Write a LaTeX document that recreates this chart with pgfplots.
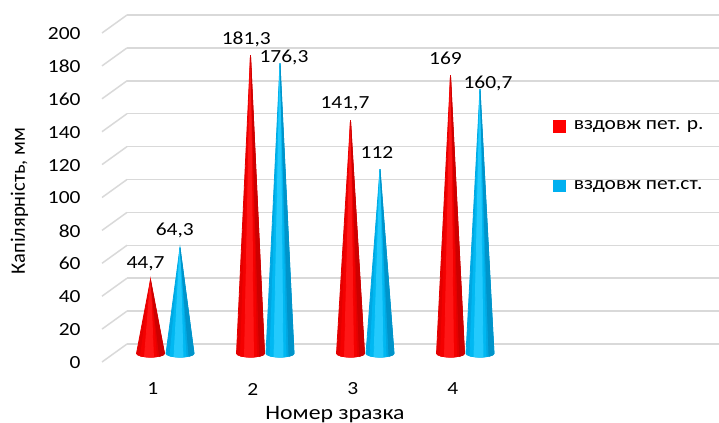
\documentclass[border=0pt]{standalone}
\usepackage{fontspec}
\setmainfont{Carlito}[FakeStretch=1.16]
\newfontfamily\uprightlabel{Carlito}
\usepackage{pgfplots}
\usepackage{pgfplotstable}
\pgfplotsset{compat=1.18}

\definecolor{serRed}{HTML}{FF0000}
\definecolor{serBlue}{HTML}{00B0F0}
\definecolor{gridgray}{HTML}{D9D9D9}
% cone tones: body, lit band, highlight, shaded side
\definecolor{redBody}{RGB}{228,0,0}
\definecolor{redLit}{RGB}{244,0,0}
\definecolor{redHi}{RGB}{255,22,22}
\definecolor{redDark}{RGB}{205,0,0}
\definecolor{blueBody}{RGB}{0,168,226}
\definecolor{blueLit}{RGB}{0,184,242}
\definecolor{blueHi}{RGB}{35,202,253}
\definecolor{blueDark}{RGB}{0,148,202}

% x: sample number; r, b: capillarity of the two series;
% rdx, rdy, bdx, bdy: placement of the value labels (pt)
\pgfplotstableread{
x r     b     rdx   rdy  bdx  bdy
1 44.7  64.3  -2.5  8.6  -2.6 9.1
2 181.3 176.3 -2.1  8.6  2.0  3.4
3 141.7 112   -2.75 8.7  -1.5 8.4
4 169   160.7 -2.5  8.5  4.0  3.45
}\capdata

% cone drawn as a plot mark: apex at the data point, elliptic base on
% y = 0 (one y unit = 0.8225pt); bands of tone give the round look
\newcommand\conebody[4]{%
  \fill[#1] (0pt,0pt) -- (7pt,{-0.8225pt*\coneval})
    arc[start angle=0,end angle=-180,x radius=7pt,y radius=1.8pt] -- cycle;
  \fill[#2] (0pt,0pt) -- (-5pt,{-0.8225pt*\coneval-1.26pt})
    -- (0pt,{-0.8225pt*\coneval-1.8pt}) -- (3pt,{-0.8225pt*\coneval-1.63pt}) -- cycle;
  \fill[#3] (0pt,0pt) -- (-3pt,{-0.8225pt*\coneval-1.63pt})
    -- (0pt,{-0.8225pt*\coneval-1.8pt}) -- (1.5pt,{-0.8225pt*\coneval-1.76pt}) -- cycle;
  \fill[#4] (0pt,0pt) -- (7pt,{-0.8225pt*\coneval})
    -- (6.2pt,{-0.8225pt*\coneval-0.84pt}) -- (4.5pt,{-0.8225pt*\coneval-1.38pt}) -- cycle;}
\pgfdeclareplotmark{cone-red}{\conebody{redBody}{redLit}{redHi}{redDark}}
\pgfdeclareplotmark{cone-blue}{\conebody{blueBody}{blueLit}{blueHi}{blueDark}}
% empty mark: carries the value labels only
\pgfdeclareplotmark{blank}{}

\newcommand\ticksize{\fontsize{9.25}{11}\selectfont}
\newcommand\titlesize{\fontsize{10.25}{12}\selectfont}

\begin{document}
\begin{tikzpicture}
\useasboundingbox (0pt,0pt) rectangle (359.5pt,211.5pt);

% back wall with the horizontal grid and the floor diagonals
\begin{axis}[
  at={(63.5pt,39.5pt)}, anchor=south west,
  x=296pt, y=0.8225pt,
  xmin=0, xmax=1, ymin=0, ymax=200,
  clip=false,
  axis line style={draw=none},
  major tick length=0pt,
  xtick=\empty, ytick={0,20,...,200}, yticklabels={},
  ymajorgrids, grid style={gridgray, line width=0.75pt},
]
\pgfplotsinvokeforeach{0,20,...,200}{
  \draw[gridgray, line width=0.75pt] (axis cs:0,#1) -- ++(-12.5pt,-9pt);
}
\end{axis}

% cones, tick labels, titles and legend
\begin{axis}[
  at={(57.25pt,34.75pt)}, anchor=south west,
  x=50pt, y=0.8225pt,
  xmin=0.4925, xmax=6, ymin=0, ymax=200,
  clip=false,
  axis line style={draw=none},
  major tick length=0pt,
  xtick={1,2,3,4}, ytick={0,20,...,200},
  /pgf/number format/assume math mode=true,
  tick label style={font=\ticksize},
  xticklabel style={anchor=center, inner sep=0pt, xshift=-6.25pt, yshift=-17.75pt},
  yticklabel style={anchor=east, inner sep=0pt, xshift=-16.75pt, yshift=-4.5pt},
  xlabel={Номер зразка},
  ylabel={Капілярність, мм},
  every axis x label/.style={at={(axis cs:2.6975,-40.2)}, anchor=base, font=\titlesize},
  every axis y label/.style={at={(axis cs:-0.4025,92.7)}, anchor=base, rotate=90,
    font=\uprightlabel\titlesize},
  legend style={at={(axis cs:4.8775,141.9)}, anchor=north west,
    draw=none, fill=none, inner sep=0pt, row sep=23.5pt, font=\ticksize,
    nodes={inner sep=0pt},
    /tikz/every odd column/.style={column sep=4pt}},
  legend cell align=left,
  value label/.style={only marks, mark=blank, forget plot, point meta=explicit,
    nodes near coords={\pgfmathprintnumber[fixed,precision=1,use comma]{\pgfplotspointmeta}},
    nodes near coords style={anchor=center, inner sep=0pt, text depth=0pt,
      font=\ticksize, text=black}},
]
\addplot[only marks, mark=cone-red,
  visualization depends on={rawy \as \coneval},
  legend image code/.code={\fill[serRed] (0pt,-2.9pt) rectangle (5.8pt,2.9pt);},
] table[x expr=\thisrow{x}-0.1475, y=r] {\capdata};
\addlegendentry{вздовж пет. р.}
\addplot[only marks, mark=cone-blue,
  visualization depends on={rawy \as \coneval},
  legend image code/.code={\fill[serBlue] (0pt,-2.9pt) rectangle (5.8pt,2.9pt);},
] table[x expr=\thisrow{x}+0.1475, y=b] {\capdata};
\addlegendentry{вздовж пет.ст.}

% value labels above the cone tips
\addplot[value label] table[x expr=\thisrow{x}-0.1475+\thisrow{rdx}/50,
  y expr=\thisrow{r}+\thisrow{rdy}/0.8225, meta=r] {\capdata};
\addplot[value label] table[x expr=\thisrow{x}+0.1475+\thisrow{bdx}/50,
  y expr=\thisrow{b}+\thisrow{bdy}/0.8225, meta=b] {\capdata};
\end{axis}
\end{tikzpicture}
\end{document}
